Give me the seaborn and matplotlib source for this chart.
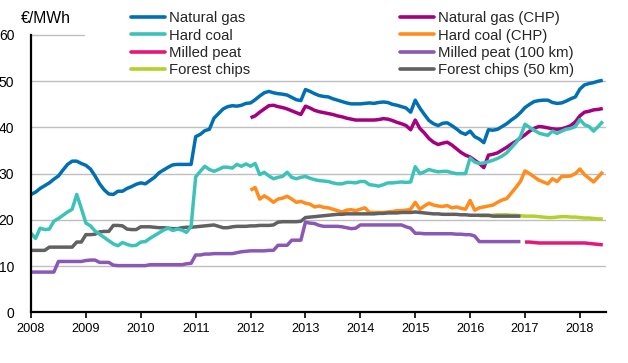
import numpy as np
import pandas as pd
import matplotlib
matplotlib.use("Agg")
import matplotlib.pyplot as plt
import seaborn as sns
from matplotlib.lines import Line2D

# ---- data (monthly, Jan 2008 .. Jun 2018) ----
start_year = 2008
n_months = 126

natural_gas = [25.5, 26.0, 26.8, 27.4, 28.0, 28.8, 29.5, 30.8, 32.0, 32.7, 32.7, 32.2,
               31.8, 31.0, 29.5, 27.8, 26.5, 25.6, 25.5, 26.2, 26.2, 26.8, 27.2, 27.7,
               28.0, 27.8, 28.5, 29.2, 30.2, 30.8, 31.4, 31.9, 32.0, 32.0, 32.0, 32.0,
               38.0, 38.5, 39.3, 39.6, 42.0, 43.0, 44.0, 44.5, 44.7, 44.6, 44.8, 45.2,
               45.3, 46.0, 46.8, 47.5, 47.8, 47.5, 47.3, 47.2, 47.0, 46.5, 46.0, 45.8,
               48.2, 47.8, 47.3, 46.9, 46.7, 46.6, 46.2, 45.9, 45.6, 45.3, 45.1, 45.1,
               45.1, 45.2, 45.3, 45.2, 45.4, 45.5, 45.4, 45.0, 44.8, 44.5, 44.2, 43.3,
               45.9, 44.2, 42.8, 41.5, 40.8, 40.4, 40.9, 41.0, 40.4, 39.7, 38.9, 38.5,
               39.2, 38.0, 37.5, 36.7, 39.5, 39.4, 39.6, 40.2, 40.8, 41.6, 42.3, 43.2,
               44.3, 45.0, 45.6, 45.8, 45.9, 45.9, 45.4, 45.2, 45.3, 45.7, 46.2, 46.6,
               48.3, 49.2, 49.5, 49.7, 50.0, 50.2]

natural_gas_chp = [None] * 48 + [
               42.1, 42.5, 43.3, 44.0, 44.7, 44.8, 44.5, 44.3, 44.0, 43.6, 43.2, 42.8,
               44.6, 44.2, 43.7, 43.4, 43.2, 43.0, 42.8, 42.5, 42.3, 42.0, 41.8, 41.6,
               41.6, 41.6, 41.6, 41.6, 41.7, 41.9, 41.8, 41.5, 41.1, 40.8, 40.4, 39.5,
               41.6, 39.8, 38.8, 37.6, 36.8, 36.3, 36.6, 36.8, 36.2, 35.4, 34.6, 34.0,
               33.6, 32.9, 32.2, 31.3, 34.0, 34.2, 34.5, 35.1, 35.7, 36.4, 37.0, 37.7,
               38.4, 39.2, 39.8, 40.2, 40.1, 39.9, 39.7, 39.6, 39.7, 40.0, 40.4, 41.2,
               42.5, 43.3, 43.5, 43.8, 43.9, 44.1]

hard_coal = [17.1, 16.0, 18.2, 17.9, 18.0, 19.7, 20.3, 21.0, 21.7, 22.3, 25.5, 22.5,
             19.3, 18.7, 17.6, 16.9, 16.2, 15.5, 14.8, 14.4, 15.1, 14.7, 14.4, 14.5,
             15.2, 15.3, 16.0, 16.6, 17.2, 17.8, 18.2, 17.7, 18.0, 17.8, 17.3, 18.6,
             29.3, 30.5, 31.6, 30.9, 30.5, 30.9, 31.4, 31.4, 31.2, 32.0, 31.6, 32.1,
             31.6, 32.2, 29.8, 30.3, 29.5, 28.9, 29.2, 29.4, 30.3, 29.2, 28.9, 29.2,
             29.4, 29.0, 28.7, 28.5, 28.4, 28.3, 28.0, 27.8, 27.8, 28.1, 28.1, 28.0,
             28.3, 28.3, 27.6, 27.5, 27.3, 27.6, 28.0, 28.0, 28.1, 28.2, 28.1, 28.2,
             31.5, 30.0, 30.4, 30.9, 30.6, 30.4, 30.5, 30.5, 30.2, 30.0, 30.0, 30.0,
             33.4, 32.5, 32.2, 32.3, 32.6, 32.9, 33.3, 33.8, 34.5, 35.6, 36.7, 38.0,
             40.7, 40.0, 39.4, 38.8, 38.5, 38.3, 39.2, 38.7, 39.2, 39.6, 39.8, 40.2,
             41.7, 40.6, 40.2, 39.2, 40.2, 41.3]

hard_coal_chp = [None] * 48 + [
             26.4, 27.0, 24.5, 25.2, 24.6, 23.8, 24.5, 24.7, 25.1, 24.5, 23.8, 24.0,
             23.6, 23.4, 22.8, 23.0, 22.7, 22.6, 22.3, 22.0, 21.7, 22.1, 22.2, 22.0,
             22.3, 22.6, 21.6, 21.6, 21.6, 21.6, 21.7, 21.8, 22.0, 22.0, 22.1, 22.3,
             23.8, 22.3, 23.0, 23.6, 23.2, 23.0, 22.9, 23.1, 22.6, 22.8, 22.5, 22.3,
             24.2, 22.1, 22.6, 22.8, 23.0, 23.2, 23.8, 24.3, 24.6, 25.8, 27.0, 28.3,
             30.6, 30.0, 29.3, 28.6, 28.2, 27.8, 28.9, 28.3, 29.4, 29.4, 29.5, 30.0,
             31.0, 29.8, 29.0, 28.2, 29.3, 30.4]

milled_peat = [None] * 108 + [
             15.2, 15.2, 15.1, 15.0, 15.0, 15.0, 15.0, 15.0, 15.0, 15.0, 15.0, 15.0,
             15.0, 15.0, 14.9, 14.8, 14.7, 14.6]

milled_peat_100km = [
             8.7, 8.7, 8.7, 8.7, 8.7, 8.7, 11.0, 11.0, 11.0, 11.0, 11.0, 11.0,
             11.2, 11.3, 11.3, 10.8, 10.8, 10.8, 10.2, 10.1, 10.1, 10.1, 10.1, 10.1,
             10.1, 10.1, 10.3, 10.3, 10.3, 10.3, 10.3, 10.3, 10.3, 10.3, 10.5, 10.6,
             12.4, 12.4, 12.6, 12.6, 12.7, 12.7, 12.7, 12.7, 12.7, 12.9, 13.1, 13.2,
             13.3, 13.3, 13.3, 13.3, 13.4, 13.4, 14.5, 14.5, 14.5, 15.6, 15.6, 15.6,
             19.5, 19.3, 19.2, 18.8, 18.6, 18.6, 18.6, 18.6, 18.5, 18.3, 18.1, 18.2,
             18.9, 18.9, 18.9, 18.9, 18.9, 18.9, 18.9, 18.9, 18.9, 18.9, 18.5, 18.2,
             17.1, 17.1, 17.0, 17.0, 17.0, 17.0, 17.0, 17.0, 17.0, 16.9, 16.9, 16.8,
             16.8, 16.5, 15.3, 15.3, 15.3, 15.3, 15.3, 15.3, 15.3, 15.3, 15.3, 15.3] + [None] * 18

forest_chips = [None] * 98 + [
             20.9, 20.9, 20.9, 21.0, 21.1, 21.1, 21.1, 21.0, 21.0, 20.9,
             20.8, 20.8, 20.8, 20.7, 20.6, 20.5, 20.5, 20.6, 20.7, 20.7, 20.6, 20.6,
             20.5, 20.4, 20.4, 20.3, 20.2, 20.2]

forest_chips_50km = [
             13.4, 13.4, 13.4, 13.4, 14.1, 14.1, 14.1, 14.1, 14.1, 14.1, 15.2, 15.2,
             16.8, 16.8, 16.9, 17.4, 17.5, 17.5, 18.8, 18.8, 18.7, 18.0, 17.9, 17.9,
             18.5, 18.5, 18.5, 18.4, 18.3, 18.3, 18.2, 18.1, 18.1, 18.3, 18.4, 18.4,
             18.5, 18.6, 18.7, 18.8, 18.9, 18.6, 18.3, 18.3, 18.5, 18.6, 18.6, 18.6,
             18.7, 18.7, 18.8, 18.8, 18.8, 18.9, 19.5, 19.6, 19.6, 19.6, 19.6, 19.7,
             20.5, 20.6, 20.7, 20.8, 20.9, 21.0, 21.1, 21.2, 21.2, 21.3, 21.3, 21.3,
             21.3, 21.3, 21.3, 21.3, 21.4, 21.4, 21.5, 21.5, 21.5, 21.6, 21.6, 21.6,
             21.7, 21.6, 21.5, 21.4, 21.3, 21.3, 21.2, 21.2, 21.2, 21.2, 21.1, 21.1,
             21.0, 21.0, 21.0, 21.0, 21.0, 20.8, 20.8, 20.8, 20.8, 20.8, 20.8, 20.8] + [None] * 18

series_names = ["Natural gas", "Hard coal", "Milled peat", "Forest chips",
                "Natural gas (CHP)", "Hard coal (CHP)", "Milled peat (100 km)",
                "Forest chips (50 km)"]
series_values = [natural_gas, hard_coal, milled_peat, forest_chips,
                 natural_gas_chp, hard_coal_chp, milled_peat_100km, forest_chips_50km]
colors = {"Natural gas": "#0070B3",
          "Hard coal": "#3DC2BA",
          "Milled peat": "#E5177B",
          "Forest chips": "#B6CF2B",
          "Natural gas (CHP)": "#A5007D",
          "Hard coal (CHP)": "#FF8C1C",
          "Milled peat (100 km)": "#8C58B6",
          "Forest chips (50 km)": "#616161"}
draw_order = ["Forest chips", "Milled peat", "Natural gas (CHP)", "Hard coal (CHP)",
              "Milled peat (100 km)", "Forest chips (50 km)", "Hard coal", "Natural gas"]
year_ticks = list(range(2008, 2019))
y_ticks = [0, 10, 20, 30, 40, 50, 60]

# ---- long table ----
t = start_year + np.arange(n_months) / 12.0
rows = []
for name, vals in zip(series_names, series_values):
    for ti, v in zip(t, vals):
        if v is not None:
            rows.append((ti, v, name))
df = pd.DataFrame(rows, columns=["t", "value", "series"])

sns.set_theme(style="white")
plt.rcParams["font.family"] = ["Liberation Sans", "DejaVu Sans"]

fig = plt.figure(figsize=(6.28, 3.63), dpi=100)
ax = fig.add_axes([31 / 628, 1 - 312.3 / 363, (605.7 - 31) / 628, (312.3 - 35) / 363])

sns.lineplot(data=df, x="t", y="value", hue="series", hue_order=draw_order,
             palette=colors, linewidth=2.5, legend=False, ax=ax, estimator=None,
             solid_capstyle="butt")

ax.set_xlim(2008, 2018.47)
ax.set_ylim(0, 60)
ax.set_xticks(year_ticks)
ax.set_xticklabels([str(y) for y in year_ticks], fontsize=9.2)
ax.set_yticks(y_ticks)
ax.set_yticklabels([str(y) for y in y_ticks], fontsize=10)
ax.set_xlabel("")
ax.set_ylabel("")

# grid (top line hidden behind legend except at far left)
for yv in y_ticks[1:-1]:
    ax.axhline(yv, color="#BFBFBF", linewidth=1.0, zorder=0.5)
ax.plot([2008, 2008.96], [60, 60], color="#BFBFBF", linewidth=1.0, zorder=0.5,
        clip_on=False)

for side in ["top", "right"]:
    ax.spines[side].set_visible(False)
for side in ["left", "bottom"]:
    ax.spines[side].set_color("black")
    ax.spines[side].set_linewidth(1.6)
ax.tick_params(axis="x", length=4, width=1.2, color="black", pad=4, bottom=True,
               direction="out", labelcolor="black")
ax.tick_params(axis="y", length=0, pad=12, labelcolor="black")

fig.text(21 / 628, 1 - 22.7 / 363, "€/MWh", fontsize=11.3, va="baseline", ha="left",
         color="black")

handles = [Line2D([0], [0], color=colors[n], linewidth=2.6) for n in series_names]
leg_kw = dict(loc="upper left", frameon=False, fontsize=10.7, handlelength=2.3,
              handletextpad=0.25, labelspacing=0.22, borderpad=0, borderaxespad=0)
leg1 = fig.legend(handles[:4], series_names[:4],
                  bbox_to_anchor=(131 / 628, 1 - 11.3 / 363), **leg_kw)
leg2 = fig.legend(handles[4:], series_names[4:],
                  bbox_to_anchor=(400 / 628, 1 - 11.3 / 363), **leg_kw)

fig.savefig("out.png", dpi=100)
